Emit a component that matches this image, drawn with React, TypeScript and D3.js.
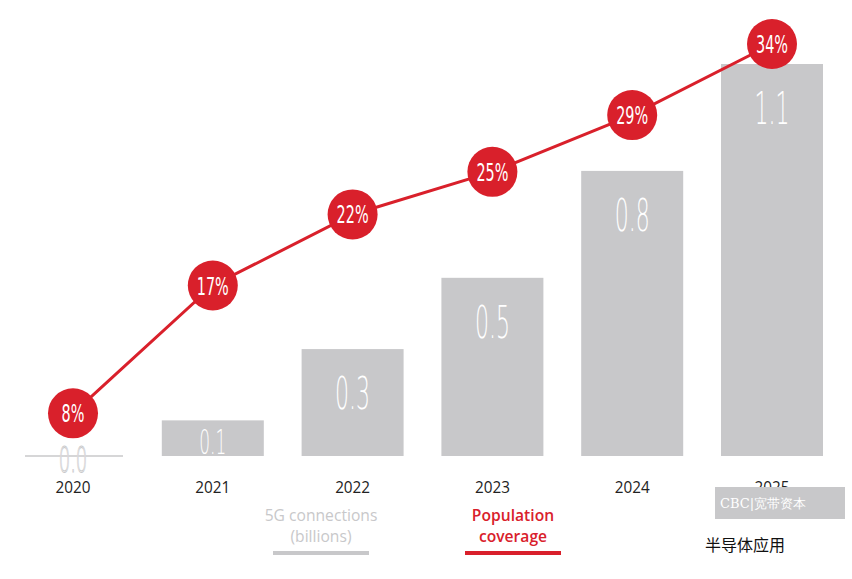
import React from "react";
import * as d3 from "d3";

const years = ["2020", "2021", "2022", "2023", "2024", "2025"];
const connections = [0.0, 0.1, 0.3, 0.5, 0.8, 1.1];
const coverage = [8, 17, 22, 25, 29, 34];

export default function App() {
  const x = d3.scalePoint<string>().domain(years).range([73, 772]);
  const yB = d3.scaleLinear().domain([0, 1.1]).range([456, 64]);
  const yP = d3.scaleLinear().domain([0, 34]).range([527, 44]);
  const bw = 102;
  const line = d3.line<number>().x((_, i) => x(years[i])!).y((d) => yP(d));
  const cond = (cx: number, cy: number, s: number) => `translate(${cx},${cy}) scale(${s},1)`;
  return (
    <svg width={852} height={579} style={{ position: "absolute", left: 0, top: 0, background: "#fff" }}>
      {connections.map((v, i) =>
        i === 0 ? (
          <g key={i}>
            <line x1={25} x2={123} y1={456} y2={456} stroke="#c8c8ca" strokeWidth={1.5} />
            <text transform={cond(x(years[i])!, 472, 0.5)} textAnchor="middle" fontFamily="DejaVu Sans" fontWeight={300} fontSize={36} fill="#fff" stroke="#c8c8ca" strokeWidth={1}>0.0</text>
          </g>
        ) : (
          <g key={i}>
            <rect x={x(years[i])! - bw / 2} y={yB(v)} width={bw} height={456 - yB(v)} fill="#c8c8ca" />
            <text transform={cond(x(years[i])!, Math.min(yB(v) + 60, 454), 0.5)} textAnchor="middle" fontFamily="DejaVu Sans" fontWeight={300} fontSize={i === 1 ? 34 : 44} fill="#fff">{v.toFixed(1)}</text>
          </g>
        )
      )}
      {years.map((y) => (
        <text key={y} transform={cond(x(y)!, 493, 0.9)} textAnchor="middle" fontFamily="Open Sans" fontSize={17} fill="#222">{y}</text>
      ))}
      <rect x={715} y={487} width={130} height={32} fill="#c8c8ca" />
      <text x={720} y={508} fontFamily="DejaVu Serif" fontSize={13} fill="#fff">CBC|宽带资本</text>
      <path d={line(coverage)!} fill="none" stroke="#d9202b" strokeWidth={3} />
      {coverage.map((p, i) => (
        <g key={i}>
          <circle cx={x(years[i])!} cy={yP(p)} r={25} fill="#d9202b" />
          <text transform={cond(x(years[i])!, yP(p) + 9, 0.6)} textAnchor="middle" fontFamily="DejaVu Sans" fontSize={24} fill="#fff">{p}%</text>
        </g>
      ))}
      <text transform={cond(321, 521, 0.92)} textAnchor="middle" fontFamily="Open Sans" fontSize={17} fill="#c8c8ca">5G connections</text>
      <text transform={cond(321, 542, 0.92)} textAnchor="middle" fontFamily="Open Sans" fontSize={17} fill="#c8c8ca">(billions)</text>
      <rect x={273} y={551} width={96} height={4} fill="#c8c8ca" />
      <text transform={cond(513, 521, 0.92)} textAnchor="middle" fontFamily="Open Sans" fontSize={17} fontWeight={600} fill="#d9202b">Population</text>
      <text transform={cond(513, 542, 0.92)} textAnchor="middle" fontFamily="Open Sans" fontSize={17} fontWeight={600} fill="#d9202b">coverage</text>
      <rect x={465} y={551} width={96} height={4} fill="#d9202b" />
      <text x={705} y={551} fontFamily="Noto Sans CJK SC" fontSize={16} fill="#111">半导体应用</text>
    </svg>
  );
}
